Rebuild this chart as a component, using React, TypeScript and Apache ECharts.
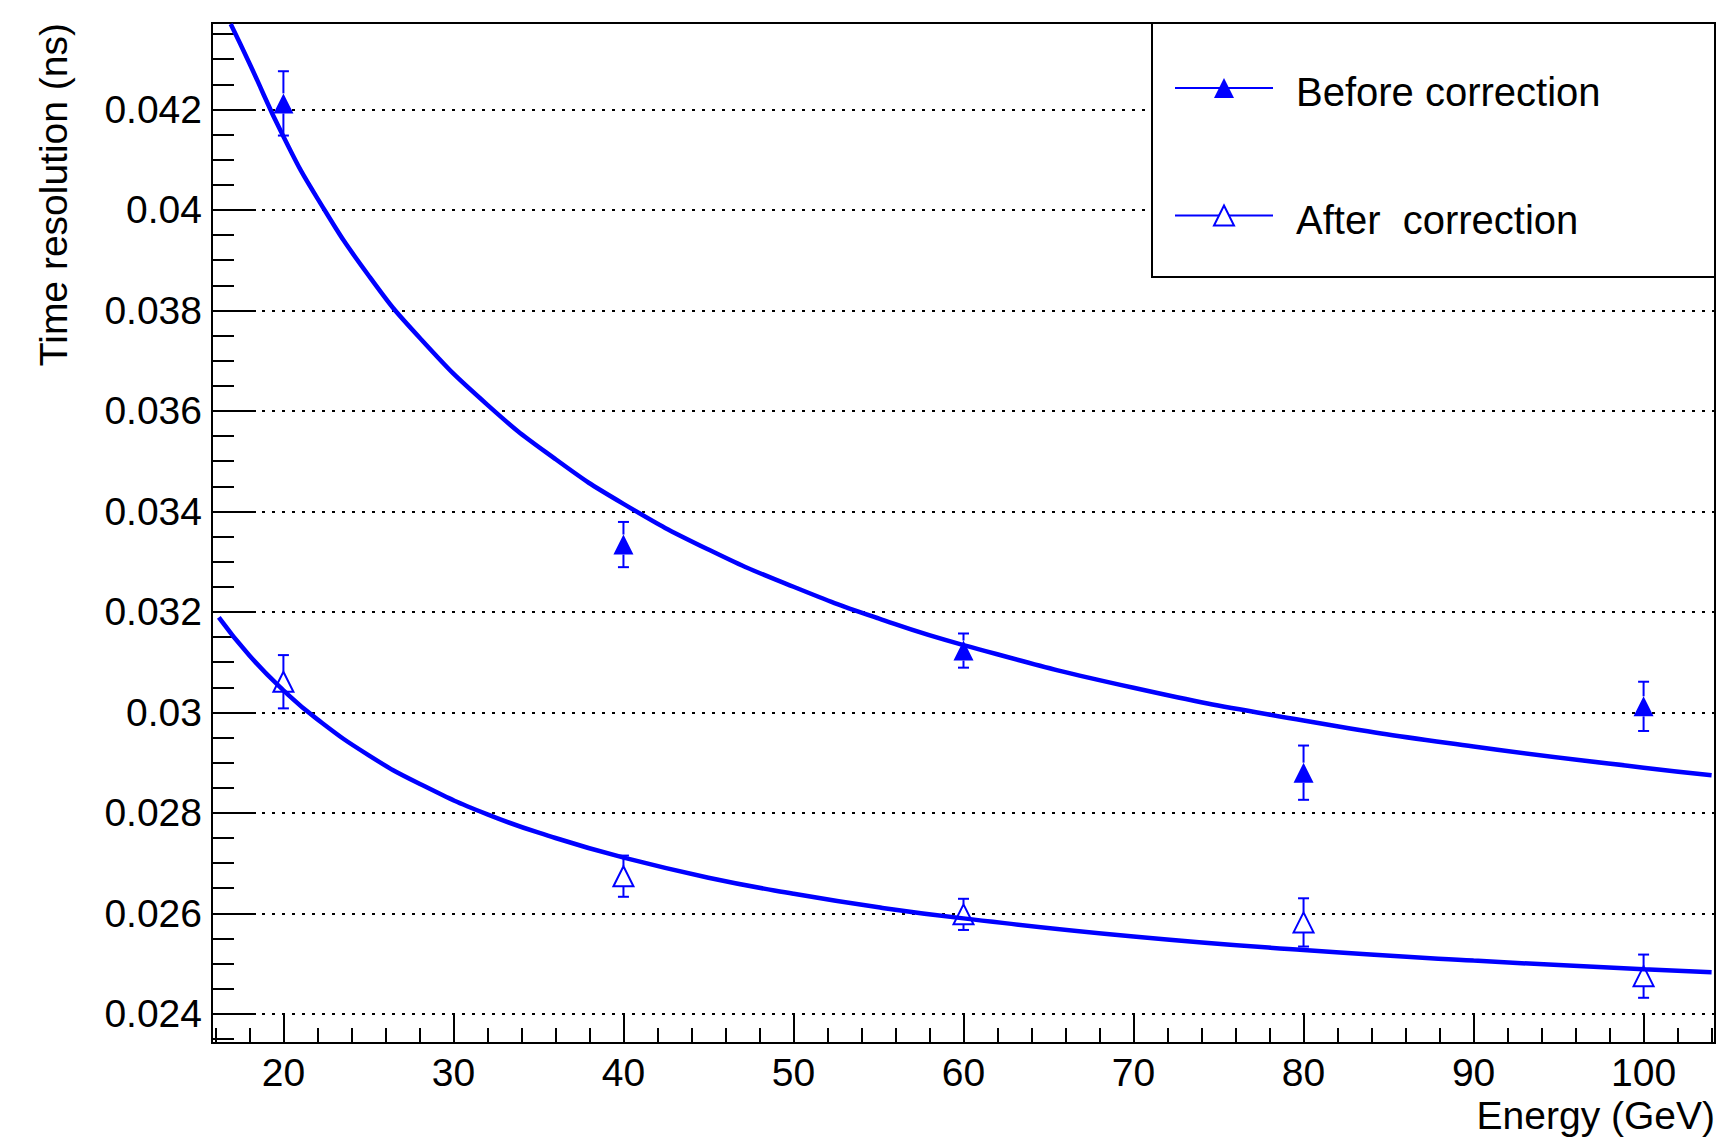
import React, { useEffect, useRef } from 'react';
import * as echarts from 'echarts';

const FONT = '"Liberation Sans", Arial, Helvetica, sans-serif';
const BLUE = '#0000ff';

// Measured points
const energies = [20, 40, 60, 80, 100];
const beforeValues = [0.04212, 0.03334, 0.03123, 0.0288, 0.03012];
const beforeErrors = [0.00064, 0.00045, 0.00034, 0.00054, 0.00049];
const afterValues = [0.03061, 0.02674, 0.02598, 0.02582, 0.02475];
const afterErrors = [0.00053, 0.00041, 0.00031, 0.00048, 0.00043];

// Fitted curves
const beforeFitE = [16.9, 18, 20, 22, 25, 28, 32, 36, 40, 45, 50, 55, 60, 70, 80, 90, 100, 104];
const beforeFitT = [0.0437, 0.04292, 0.04146, 0.04023, 0.0387, 0.03746, 0.03612, 0.03504, 0.03415, 0.03324, 0.0325, 0.03187, 0.03134, 0.03049, 0.02984, 0.02932, 0.0289, 0.02875];
const afterFitE = [16.2, 18, 20, 22, 25, 28, 32, 36, 40, 45, 50, 55, 60, 70, 80, 90, 100, 104];
const afterFitT = [0.03189, 0.03113, 0.03044, 0.02986, 0.02915, 0.02858, 0.02797, 0.0275, 0.02711, 0.02671, 0.02639, 0.02612, 0.0259, 0.02554, 0.02527, 0.02506, 0.02489, 0.02483];

const legendNames = ['Before correction', 'After  correction'];
const xTitle = 'Energy (GeV)';
const yTitle = 'Time resolution (ns)';

const xMin = 15.8;
const xMax = 104.2;
const yMin = 0.02342;
const yMax = 0.04372;

function errorBarSeries(name: string, values: number[], errors: number[]) {
  return {
    type: 'custom',
    name,
    z: 4,
    data: energies.map((e, i) => [e, values[i], errors[i]]),
    encode: { x: 0, y: 1 },
    renderItem: (params: any, api: any) => {
      const x = api.value(0);
      const y = api.value(1);
      const err = api.value(2);
      const c = api.coord([x, y]);
      const top = api.coord([x, y + err]);
      const bot = api.coord([x, y - err]);
      const half = 10;
      const cap = 5.5;
      const style = { stroke: BLUE, lineWidth: 2, fill: 'none' };
      const children: any[] = [];
      if (top[1] < c[1] - half) {
        children.push({ type: 'line', shape: { x1: c[0], y1: top[1], x2: c[0], y2: c[1] - half }, style });
      }
      if (bot[1] > c[1] + half) {
        children.push({ type: 'line', shape: { x1: c[0], y1: c[1] + half, x2: c[0], y2: bot[1] }, style });
      }
      children.push({ type: 'line', shape: { x1: c[0] - cap, y1: top[1], x2: c[0] + cap, y2: top[1] }, style });
      children.push({ type: 'line', shape: { x1: c[0] - cap, y1: bot[1], x2: c[0] + cap, y2: bot[1] }, style });
      return { type: 'group', children };
    },
  };
}

export default function App() {
  const ref = useRef<HTMLDivElement>(null);

  useEffect(() => {
    if (!ref.current) return;
    const chart = echarts.init(ref.current, null, { renderer: 'svg' });
    const option: any = {
      animation: false,
      backgroundColor: '#ffffff',
      grid: {
        left: 212,
        top: 23,
        right: 18,
        bottom: 98,
        show: true,
        borderColor: '#000',
        borderWidth: 2,
        backgroundColor: 'transparent',
      },
      xAxis: {
        type: 'value',
        min: xMin,
        max: xMax,
        splitNumber: 9,
        axisLine: { show: true, onZero: false, lineStyle: { color: '#000', width: 2 } },
        axisTick: { show: true, inside: true, length: 30, lineStyle: { color: '#000', width: 2 } },
        minorTick: { show: true, splitNumber: 5, length: 15, lineStyle: { color: '#000', width: 2 } },
        axisLabel: {
          showMinLabel: false,
          showMaxLabel: false,
          fontSize: 39,
          fontFamily: FONT,
          color: '#000',
          margin: 10,
        },
        splitLine: { show: false },
      },
      yAxis: {
        type: 'value',
        min: yMin,
        max: yMax,
        splitNumber: 10,
        axisLine: { show: true, onZero: false, lineStyle: { color: '#000', width: 2 } },
        axisTick: { show: true, inside: true, length: 44, lineStyle: { color: '#000', width: 2 } },
        minorTick: { show: true, splitNumber: 4, length: 22, lineStyle: { color: '#000', width: 2 } },
        axisLabel: {
          showMinLabel: false,
          showMaxLabel: false,
          fontSize: 39,
          fontFamily: FONT,
          color: '#000',
          margin: 10,
          padding: [6, 0, 0, 0],
        },
        splitLine: {
          show: true,
          showMinLine: false,
          showMaxLine: false,
          lineStyle: { color: '#000', width: 2, type: [3, 7] },
        },
      },
      legend: {
        orient: 'vertical',
        left: 1174,
        top: 64,
        padding: 0,
        itemWidth: 98,
        itemHeight: 25,
        itemGap: 79.5,
        selectedMode: false,
        z: 10,
        formatter: '{t|{name}}',
        textStyle: {
          fontSize: 40,
          fontFamily: FONT,
          color: '#000',
          lineHeight: 40,
          padding: [0, 0, 0, 18],
          rich: {
            t: { fontSize: 40, fontFamily: FONT, color: '#000', lineHeight: 48, padding: [8, 0, 0, 0] },
          },
        },
        lineStyle: { color: BLUE, width: 2, opacity: 1, type: 'solid' },
        data: [
          { name: legendNames[0], itemStyle: { color: BLUE, borderWidth: 0 } },
          { name: legendNames[1], itemStyle: { color: '#ffffff', borderColor: BLUE, borderWidth: 2 } },
        ],
      },
      graphic: [
        {
          type: 'rect',
          z: 9,
          shape: { x: 1152, y: 23, width: 563, height: 254 },
          style: { fill: '#ffffff', stroke: '#000', lineWidth: 2 },
        },
        {
          type: 'text',
          x: 1715,
          y: 1115,
          style: { text: xTitle, fontSize: 39, fontFamily: FONT, fill: '#000', align: 'right', verticalAlign: 'middle' },
        },
        {
          type: 'text',
          x: 53,
          y: 23,
          rotation: Math.PI / 2,
          style: { text: yTitle, fontSize: 39, fontFamily: FONT, fill: '#000', align: 'right', verticalAlign: 'middle' },
        },
      ],
      series: [
        {
          name: legendNames[0],
          type: 'line',
          z: 3,
          data: energies.map((e, i) => [e, beforeValues[i]]),
          symbol: 'triangle',
          symbolSize: 20,
          showSymbol: true,
          lineStyle: { width: 0, opacity: 0 },
          itemStyle: { color: BLUE },
        },
        {
          name: legendNames[1],
          type: 'line',
          z: 3,
          data: energies.map((e, i) => [e, afterValues[i]]),
          symbol: 'triangle',
          symbolSize: 20,
          showSymbol: true,
          lineStyle: { width: 0, opacity: 0, color: BLUE },
          itemStyle: { color: '#ffffff', borderColor: BLUE, borderWidth: 2 },
        },
        errorBarSeries('beforeErr', beforeValues, beforeErrors),
        errorBarSeries('afterErr', afterValues, afterErrors),
        {
          name: 'fitBefore',
          type: 'line',
          z: 5,
          data: beforeFitE.map((e, i) => [e, beforeFitT[i]]),
          smooth: true,
          showSymbol: false,
          symbol: 'none',
          lineStyle: { color: BLUE, width: 4.5 },
          itemStyle: { color: BLUE },
        },
        {
          name: 'fitAfter',
          type: 'line',
          z: 5,
          data: afterFitE.map((e, i) => [e, afterFitT[i]]),
          smooth: true,
          showSymbol: false,
          symbol: 'none',
          lineStyle: { color: BLUE, width: 4.5 },
          itemStyle: { color: BLUE },
        },
      ],
    };
    chart.setOption(option);
    return () => chart.dispose();
  }, []);

  return (
    <div
      ref={ref}
      style={{ position: 'absolute', left: 0, top: 0, width: 1733, height: 1141, background: '#fff' }}
    />
  );
}
